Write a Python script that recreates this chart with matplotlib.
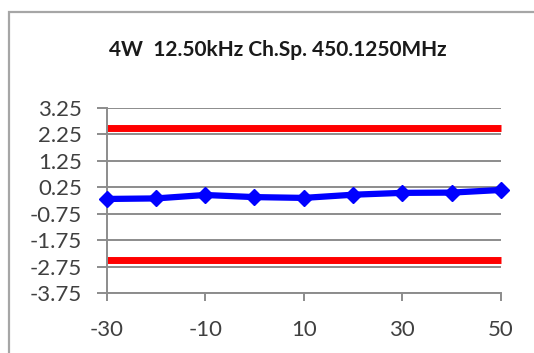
import matplotlib
matplotlib.use("Agg")
import matplotlib.pyplot as plt
from matplotlib.patches import Rectangle

temps = [-30, -20, -10, 0, 10, 20, 30, 40, 50]
freq_error = [-0.19, -0.17, -0.04, -0.12, -0.15, -0.03, 0.04, 0.05, 0.15]
upper_limit = [2.5, 2.5]
lower_limit = [-2.5, -2.5]
limit_x = [-30, 50]
y_ticks = [3.25, 2.25, 1.25, 0.25, -0.75, -1.75, -2.75, -3.75]
x_ticks = [-30, -10, 10, 30, 50]
title = "4W  12.50kHz Ch.Sp. 450.1250MHz"

plt.rcParams['font.family'] = ['Lato', 'DejaVu Sans']

fig = plt.figure(figsize=(5.34, 3.53), dpi=100)
fig.patch.set_facecolor('white')

# chart frame
fig.patches.append(Rectangle((9/534, -0.2), 1.2, 1.2 - 12/353,
                             transform=fig.transFigure, fill=False,
                             edgecolor='#a6a6a6', linewidth=1.6))

ax = fig.add_axes([106.5/534, 1 - 293.3/353, 394.5/534, 185.5/353])
ax.set_xlim(-30, 50)
ax.set_ylim(-3.75, 3.25)

ax.set_yticks(y_ticks)
ax.set_yticklabels([f"{v:.2f}" for v in y_ticks])
ax.set_xticks(x_ticks)
ax.set_xticklabels([str(v) for v in x_ticks])

ax.grid(axis='y', color='#8c8c8c', linewidth=1.4)
ax.set_axisbelow(True)
for s in ['top', 'right']:
    ax.spines[s].set_visible(False)
for s in ['left', 'bottom']:
    ax.spines[s].set_color('#8c8c8c')
    ax.spines[s].set_linewidth(1.4)

ax.tick_params(axis='y', direction='out', length=7, width=1.4, color='#8c8c8c',
               pad=10.5, labelsize=16, labelcolor='#404040')
ax.tick_params(axis='x', direction='out', length=6, width=1.4, color='#8c8c8c',
               pad=13, labelsize=16, labelcolor='#404040')

ax.plot(limit_x, upper_limit, color='#ff0000', linewidth=5, solid_capstyle='butt', clip_on=False)
ax.plot(limit_x, lower_limit, color='#ff0000', linewidth=5, solid_capstyle='butt', clip_on=False)
ax.plot(temps, freq_error, color='#0000ff', linewidth=4.5, marker='D', markersize=8,
        markeredgecolor='#0000ff', clip_on=False, zorder=5)

fig.text(277.5/534, 1 - 50/353, title, ha='center', va='center', fontsize=15,
         fontweight='bold', color='#1a1a1a')

fig.savefig("out.png", dpi=100, facecolor='white')
